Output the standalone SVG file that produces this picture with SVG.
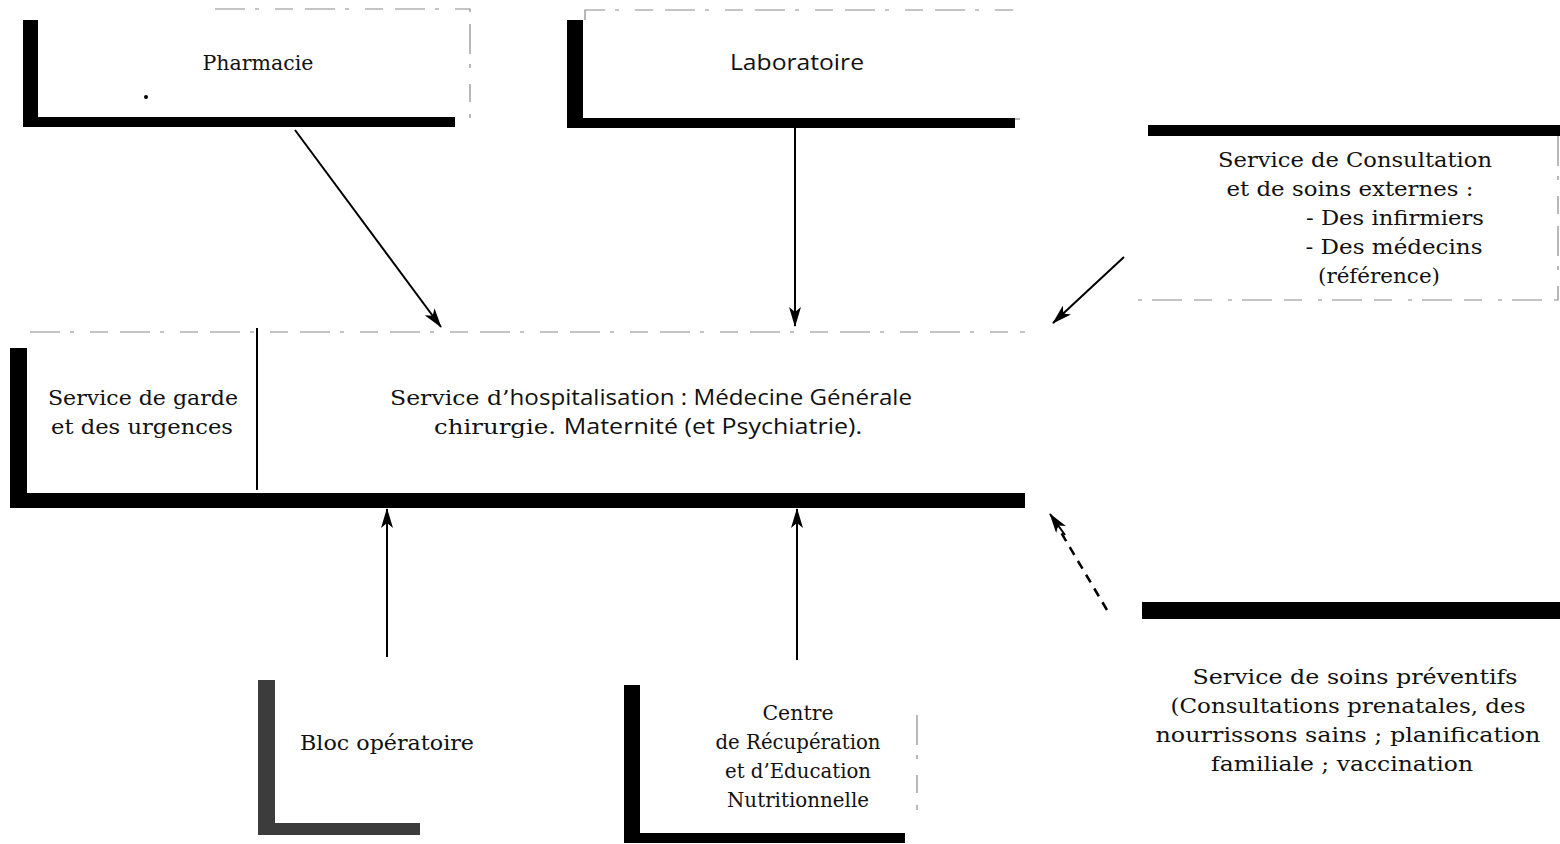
<svg xmlns="http://www.w3.org/2000/svg" width="1560" height="844" viewBox="0 0 1560 844">
<style>
.t{font-family:"DejaVu Serif","Liberation Serif",serif;font-size:20.5px;fill:#111;text-anchor:middle}
.s{font-family:"Open Sans","Lato",sans-serif;font-size:21px}
.bar{fill:#000}
.gbar{fill:#3c3c3c}
.faint{stroke:#8a8a8a;stroke-width:1.2;fill:none;stroke-dasharray:30 10 4 16 18 12}
.conn{stroke:#000;stroke-width:2;fill:none}
.dash{stroke:#000;stroke-width:2.5;fill:none;stroke-dasharray:9 7}
</style>
<defs>
<marker id="ah" viewBox="0 0 20 12" refX="19" refY="6" markerWidth="20" markerHeight="12" markerUnits="userSpaceOnUse" orient="auto">
<path d="M0,0 L20,6 L0,12 L5,6 Z" fill="#000"/>
</marker>
</defs>
<rect width="1560" height="844" fill="#fff"/>

<g id="pharmacie">
<path class="faint" d="M215,9 H470 V118"/>
<rect class="bar" x="23" y="20" width="15" height="107"/>
<rect class="bar" x="23" y="117" width="432" height="10"/>
<circle cx="146" cy="97" r="2" fill="#000"/>
<text class="t" x="258" y="70">Pharmacie</text>
</g>

<g id="laboratoire">
<path class="faint" d="M585,20 V10 H1020"/>
<path class="faint" d="M1015,119 H1020"/>
<rect class="bar" x="567" y="20" width="16" height="108"/>
<rect class="bar" x="567" y="118" width="448" height="10"/>
<text class="t s" x="797" y="70" textLength="134" lengthAdjust="spacingAndGlyphs">Laboratoire</text>
</g>

<g id="consultation">
<rect class="bar" x="1148" y="125" width="412" height="11"/>
<path class="faint" d="M1558,136 V300 H1130"/>
<text class="t" x="1355" y="167" textLength="274" lengthAdjust="spacingAndGlyphs">Service de Consultation</text>
<text class="t" x="1350" y="196" textLength="247" lengthAdjust="spacingAndGlyphs">et de soins externes :</text>
<text class="t" x="1395" y="225" textLength="178" lengthAdjust="spacingAndGlyphs">- Des infirmiers</text>
<text class="t" x="1394" y="254" textLength="177" lengthAdjust="spacingAndGlyphs">- Des médecins</text>
<text class="t" x="1379" y="283" textLength="122" lengthAdjust="spacingAndGlyphs">(référence)</text>
</g>

<g id="hospitalisation">
<path class="faint" d="M30,332 H1025"/>
<rect class="bar" x="10" y="348" width="17" height="160"/>
<rect class="bar" x="10" y="493" width="1015" height="15"/>
<line x1="257" y1="328" x2="257" y2="490" stroke="#000" stroke-width="2"/>
<text class="t" x="143" y="405" textLength="190" lengthAdjust="spacingAndGlyphs">Service de garde</text>
<text class="t" x="142" y="434" textLength="182" lengthAdjust="spacingAndGlyphs">et des urgences</text>
<text class="t" x="651" y="405" textLength="522" lengthAdjust="spacingAndGlyphs">Service d’<tspan class="s">hospitalisation : Médecine Générale</tspan></text>
<text class="t" x="648" y="434" textLength="428" lengthAdjust="spacingAndGlyphs">chirurgie. <tspan class="s">Maternité (et Psychiatrie).</tspan></text>
</g>

<g id="bloc">
<rect class="gbar" x="258" y="680" width="17" height="155"/>
<rect class="gbar" x="258" y="823" width="162" height="12"/>
<text class="t" x="387" y="750" textLength="174" lengthAdjust="spacingAndGlyphs">Bloc opératoire</text>
</g>

<g id="cren">
<rect class="bar" x="624" y="685" width="16" height="158"/>
<rect class="bar" x="624" y="833" width="281" height="10"/>
<path class="faint" d="M917,715 V810"/>
<text class="t" x="798" y="720">Centre</text>
<text class="t" x="798" y="749" textLength="165" lengthAdjust="spacingAndGlyphs">de Récupération</text>
<text class="t" x="798" y="778" textLength="146" lengthAdjust="spacingAndGlyphs">et d’Education</text>
<text class="t" x="798" y="807" textLength="142" lengthAdjust="spacingAndGlyphs">Nutritionnelle</text>
</g>

<g id="preventif">
<rect class="bar" x="1142" y="602" width="418" height="17"/>
<text class="t" x="1355" y="684" textLength="325" lengthAdjust="spacingAndGlyphs">Service de soins préventifs</text>
<text class="t" x="1348" y="713" textLength="355" lengthAdjust="spacingAndGlyphs">(Consultations prenatales, des</text>
<text class="t" x="1348" y="742" textLength="385" lengthAdjust="spacingAndGlyphs">nourrissons sains ; planification</text>
<text class="t" x="1342" y="771" textLength="262" lengthAdjust="spacingAndGlyphs">familiale ; vaccination</text>
</g>

<g id="connectors">
<line class="conn" x1="295" y1="130" x2="441" y2="327" marker-end="url(#ah)"/>
<line class="conn" x1="795" y1="128" x2="795" y2="326" marker-end="url(#ah)"/>
<line class="conn" x1="1124" y1="257" x2="1053" y2="323" marker-end="url(#ah)"/>
<line class="conn" x1="387" y1="657" x2="387" y2="509" marker-end="url(#ah)"/>
<line class="conn" x1="797" y1="660" x2="797" y2="509" marker-end="url(#ah)"/>
<line class="dash" x1="1107" y1="610" x2="1050" y2="514"/>
<line class="conn" x1="1065" y1="535" x2="1050" y2="514" marker-end="url(#ah)"/>
</g>
</svg>
